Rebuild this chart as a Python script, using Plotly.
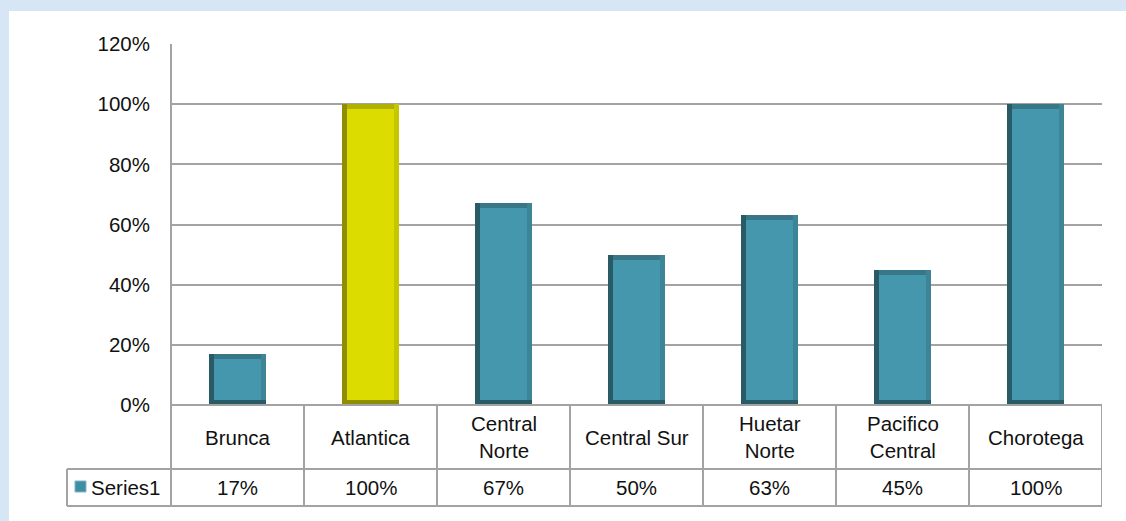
import plotly.graph_objects as go

# Share of each region (fraction of 1)
regions = ["Brunca", "Atlantica", "Central Norte", "Central Sur",
           "Huetar Norte", "Pacifico Central", "Chorotega"]
region_labels = ["Brunca", "Atlantica", "Central<br>Norte", "Central Sur",
                 "Huetar<br>Norte", "Pacifico<br>Central", "Chorotega"]
values = [0.17, 1.00, 0.67, 0.50, 0.63, 0.45, 1.00]
series_name = "Series1"
y_ticks = [0, 0.2, 0.4, 0.6, 0.8, 1.0, 1.2]
highlight = "Atlantica"

W, H = 1126, 521
ML, MR, MT, MB = 171, 24, 44, 116
PW, PH = W - ML - MR, H - MT - MB

FONT = "Liberation Sans"
FS = 20.5
GRID = "#a3a3a3"


def px_x(px):
    return (px - ML) / PW


def px_y(py):
    return (H - MB - py) / PH


# bevel palettes: (left/bottom, right, top, face)
teal = ("#295b66", "#3d8596", "#387787", "#4597ad")
yellow = ("#8e8e00", "#c6c600", "#b0b000", "#dcdc00")
pal = [yellow if r == highlight else teal for r in regions]

bw = 0.425                 # bar width in category units
bx = 5.0 / PW * 7          # bevel thickness (x, category units)
by = 5.0 / PH * 1.2        # bevel thickness (y, data units)
n = len(regions)

fig = go.Figure()
# outer dark body (left + bottom bevel)
fig.add_bar(x=regions, y=values, width=bw, offset=-bw / 2,
            marker=dict(color=[p[0] for p in pal], line=dict(width=0)))
# right bevel
fig.add_bar(x=regions, y=[v - by for v in values], base=by,
            width=bw - bx, offset=-bw / 2 + bx,
            marker=dict(color=[p[1] for p in pal], line=dict(width=0)))
# top bevel
fig.add_bar(x=regions, y=[v - by for v in values], base=by,
            width=bw - 2 * bx, offset=-bw / 2 + bx,
            marker=dict(color=[p[2] for p in pal], line=dict(width=0)))
# face
fig.add_bar(x=regions, y=[v - 2 * by for v in values], base=by,
            width=bw - 2 * bx, offset=-bw / 2 + bx,
            marker=dict(color=[p[3] for p in pal], line=dict(width=0)))

shapes = []
# white chart panel over the blue backdrop
shapes.append(dict(type="rect", xref="paper", yref="paper", layer="below",
                   x0=px_x(9), x1=px_x(W + 5), y0=px_y(H + 5), y1=px_y(11),
                   fillcolor="white", line=dict(width=0)))

# data table grid
row1 = px_y(469)
row2 = px_y(506)
left_col = px_x(67)
line = dict(color=GRID, width=2)
shapes.append(dict(type="line", xref="paper", yref="paper",
                   x0=0, x1=0, y0=row2, y1=1, line=line))
shapes.append(dict(type="line", xref="paper", yref="paper",
                   x0=0, x1=1, y0=0, y1=0, line=line))
shapes.append(dict(type="line", xref="paper", yref="paper",
                   x0=left_col, x1=1, y0=row1, y1=row1, line=line))
shapes.append(dict(type="line", xref="paper", yref="paper",
                   x0=left_col, x1=1, y0=row2, y1=row2, line=line))
shapes.append(dict(type="line", xref="paper", yref="paper",
                   x0=left_col, x1=left_col, y0=row2, y1=row1, line=line))
for i in range(1, n + 1):
    shapes.append(dict(type="line", xref="x", yref="paper",
                       x0=i - 0.5, x1=i - 0.5, y0=row2, y1=0, line=line))

# legend key in the table header cell
shapes.append(dict(type="rect", xref="paper", yref="paper",
                   x0=px_x(75), x1=px_x(86), y0=px_y(492), y1=px_y(481),
                   fillcolor="#3f8fa4", line=dict(color="#7fb6c6", width=1)))

txt_font = dict(family=FONT, size=FS, color="#111")
annotations = []
for i, lab in enumerate(region_labels):
    annotations.append(dict(x=i, y=(0 + row1) / 2, xref="x", yref="paper",
                            xanchor="center", yanchor="middle",
                            text=lab, showarrow=False, font=txt_font))
    annotations.append(dict(x=i, y=(row1 + row2) / 2, xref="x", yref="paper",
                            xanchor="center", yanchor="middle",
                            text=f"{round(values[i] * 100)}%",
                            showarrow=False, font=txt_font))
annotations.append(dict(x=px_x(89), y=(row1 + row2) / 2, xref="paper",
                        yref="paper", xanchor="left", yanchor="middle",
                        text=series_name, showarrow=False, font=txt_font))

fig.update_layout(
    width=W, height=H,
    margin=dict(l=ML, r=MR, t=MT, b=MB),
    paper_bgcolor="#d7e6f4",
    plot_bgcolor="white",
    barmode="overlay",
    bargap=0,
    showlegend=False,
    shapes=shapes,
    annotations=annotations,
    font=txt_font,
)
fig.update_xaxes(range=[-0.5, n - 0.5], showticklabels=False, showgrid=False,
                 zeroline=False, showline=False, fixedrange=True)
fig.update_yaxes(range=[0, 1.2], tickvals=y_ticks, tickformat=".0%",
                 showgrid=True, gridcolor=GRID, gridwidth=2, zeroline=False,
                 showline=False, ticks="", ticklabelstandoff=20,
                 tickfont=txt_font)

fig.write_html("out.html")
